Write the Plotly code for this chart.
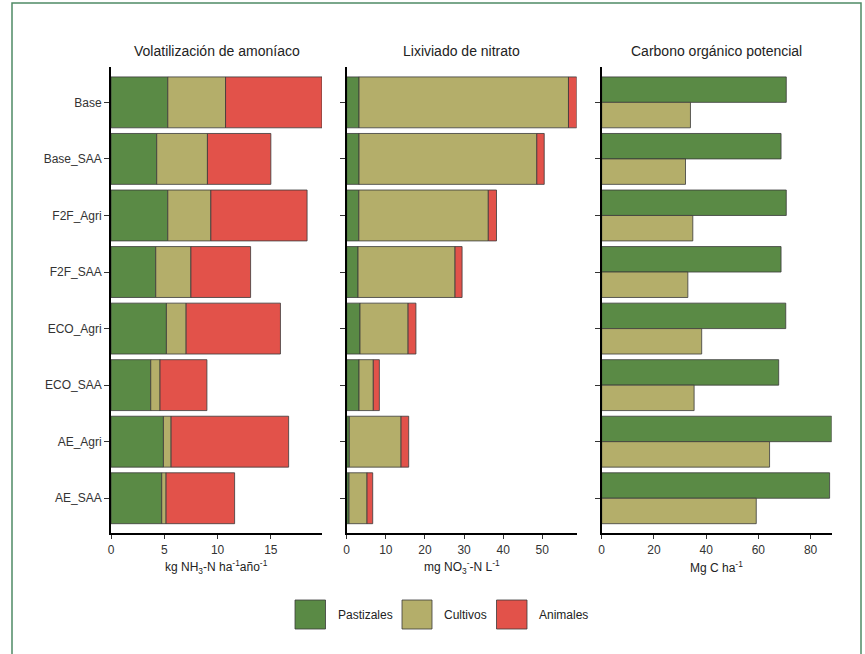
import plotly.graph_objects as go
import numpy as np

escenarios = ["Base", "Base_SAA", "F2F_Agri", "F2F_SAA", "ECO_Agri", "ECO_SAA", "AE_Agri", "AE_SAA"]

# Volatilización de amoníaco (kg NH3-N ha-1 año-1)
vol_pastizales = [5.33, 4.29, 5.33, 4.20, 5.20, 3.73, 4.92, 4.76]
vol_cultivos   = [5.42, 4.76, 4.04, 3.30, 1.85, 0.87, 0.72, 0.41]
vol_animales   = [9.05, 5.95, 9.03, 5.60, 8.85, 4.40, 11.03, 6.43]

# Lixiviado de nitrato (mg NO3-N L-1)
lix_pastizales = [3.15, 3.15, 3.10, 2.90, 3.40, 3.15, 0.67, 0.60]
lix_cultivos   = [53.55, 45.45, 33.10, 24.80, 12.30, 3.65, 13.23, 4.60]
lix_animales   = [2.10, 1.90, 2.10, 1.80, 2.00, 1.55, 1.95, 1.45]

# Carbono orgánico potencial (Mg C ha-1)
carb_pastizales = [70.7, 68.7, 70.7, 68.7, 70.5, 67.8, 88.1, 87.3]
carb_cultivos   = [34.0, 32.1, 34.9, 33.0, 38.3, 35.4, 64.3, 59.2]

titulos = ["Volatilización de amoníaco", "Lixiviado de nitrato", "Carbono orgánico potencial"]
ejes_x = ["kg NH<sub>3</sub>-N ha<sup>-1</sup>año<sup>-1</sup>",
          "mg NO<sub>3</sub><sup>-</sup>-N L<sup>-1</sup>",
          "Mg C ha<sup>-1</sup>"]
ticks_x = [[0, 5, 10, 15], [0, 10, 20, 30, 40, 50], [0, 20, 40, 60, 80]]
series = ["Pastizales", "Cultivos", "Animales"]

C_PAST = "#5a8a45"
C_CULT = "#b4ae6a"
C_ANIM = "#e2524a"
colores = [C_PAST, C_CULT, C_ANIM]
LINE = dict(color="#3a3a3a", width=0.8)

W, H = 865, 654
FONT = "Liberation Sans, Arial, Helvetica, sans-serif"

fig = go.Figure()

def px_x(v):
    return v / W

def px_y(v):
    return 1 - v / H

# paneles apilados
stacks = [
    [vol_pastizales, vol_cultivos, vol_animales],
    [lix_pastizales, lix_cultivos, lix_animales],
]
axes_ids = [("x", "y"), ("x2", "y2"), ("x3", "y3")]
for p, comp in enumerate(stacks):
    base = np.zeros(len(escenarios))
    for i, vals in enumerate(comp):
        fig.add_trace(go.Bar(
            y=escenarios, x=vals, base=base.copy(), orientation="h",
            name=series[i], marker=dict(color=colores[i], line=LINE),
            width=0.9, xaxis=axes_ids[p][0], yaxis=axes_ids[p][1],
            showlegend=False,
        ))
        base = base + np.array(vals)

# panel agrupado
for i, (vals, off) in enumerate([(carb_pastizales, -0.45), (carb_cultivos, 0.0)]):
    fig.add_trace(go.Bar(
        y=escenarios, x=vals, orientation="h", name=series[i],
        marker=dict(color=colores[i], line=LINE), width=0.45, offset=off,
        xaxis="x3", yaxis="y3", showlegend=False,
    ))

maxes = [max(np.sum(stacks[0], axis=0)), max(np.sum(stacks[1], axis=0)), max(carb_pastizales)]

x_doms = [(111, 322), (346.7, 576.7), (601.7, 831.7)]
y_dom = [px_y(533.3), px_y(67.3)]

layout = dict(
    width=W, height=H, barmode="overlay",
    margin=dict(l=0, r=0, t=0, b=0),
    plot_bgcolor="white", paper_bgcolor="white",
    font=dict(family=FONT, size=12, color="#222"),
    showlegend=False,
)
for p in range(3):
    sx = "" if p == 0 else str(p + 1)
    layout["xaxis" + sx] = dict(
        domain=[px_x(x_doms[p][0]), px_x(x_doms[p][1])],
        range=[0, maxes[p]], anchor="y" + sx,
        showline=True, linecolor="black", linewidth=1.8,
        ticks="outside", ticklen=4, tickwidth=1, tickcolor="#333",
        tickvals=ticks_x[p], showgrid=False, zeroline=False,
        tickfont=dict(size=12, color="#333"), automargin=False,
    )
    layout["yaxis" + sx] = dict(
        domain=y_dom, anchor="x" + sx, type="category",
        categoryorder="array", categoryarray=escenarios,
        range=[7.62, -0.62],
        showline=True, linecolor="black", linewidth=1.8,
        ticks="outside", ticklen=5, tickwidth=1, tickcolor="#333",
        showgrid=False, zeroline=False, showticklabels=(p == 0),
        tickfont=dict(size=12, color="#333"), automargin=False,
    )
fig.update_layout(**layout)

annotations = []
for p in range(3):
    cx = (x_doms[p][0] + x_doms[p][1]) / 2
    annotations.append(dict(x=px_x(cx), y=px_y(51), xref="paper", yref="paper",
                            text=titulos[p], showarrow=False, xanchor="center", yanchor="middle",
                            font=dict(size=14, color="#222", family=FONT)))
    annotations.append(dict(x=px_x(cx), y=px_y(567), xref="paper", yref="paper",
                            text=ejes_x[p], showarrow=False, xanchor="center", yanchor="middle",
                            font=dict(size=12, color="#222", family=FONT)))

# leyenda manual
shapes = []
leg_boxes = [(295, 325.5), (402, 432), (496.5, 527)]
for i, name in enumerate(series):
    x0, x1 = leg_boxes[i]
    shapes.append(dict(type="rect", xref="paper", yref="paper",
                       x0=px_x(x0), x1=px_x(x1), y0=px_y(629), y1=px_y(600),
                       fillcolor=colores[i], line=dict(color="#3a3a3a", width=0.8)))
    annotations.append(dict(x=px_x(x1 + 10), y=px_y(614.5), xref="paper", yref="paper",
                            text=name, showarrow=False, xanchor="left", yanchor="middle",
                            font=dict(size=12, color="#222", family=FONT)))

# marco exterior (el borde inferior queda fuera de la imagen)
shapes.append(dict(type="rect", xref="paper", yref="paper",
                   x0=px_x(12), x1=px_x(861), y0=px_y(664), y1=px_y(3),
                   line=dict(color="#4f8a66", width=1.5), fillcolor="rgba(0,0,0,0)"))

fig.update_layout(annotations=annotations, shapes=shapes)
fig.write_html(
    "out.html",
    config={"displayModeBar": False},
    post_script="document.body.style.margin='0';document.body.style.overflow='hidden';",
)
